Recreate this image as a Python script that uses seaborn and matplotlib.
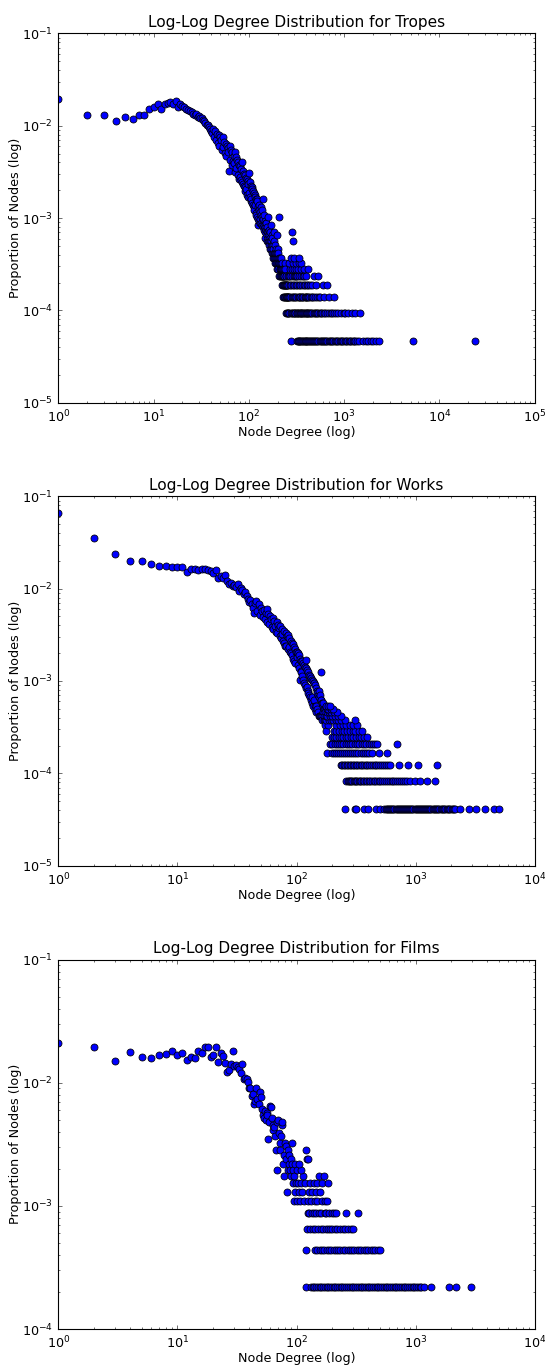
import numpy as np
import pandas as pd
import matplotlib
matplotlib.use("Agg")
import matplotlib.pyplot as plt
import seaborn as sns

# ---- Tropes: node counts per degree (degree 1..260), proportion = count / N ----
TROPES_N = 21400
tropes_head_counts = [
    415, 278, 282, 240, 268, 253, 278, 282, 321, 342,
    366, 321, 366, 381, 385, 368, 398, 338, 364, 353,
    338, 321, 317, 310, 300, 287, 278, 285, 268, 272,
    261, 257, 246, 238, 227, 216, 220, 205, 197, 188,
    178, 195, 160, 188, 150, 176, 140, 170, 128, 162,
    150, 118, 160, 125, 142, 108, 136, 100, 130, 122,
    112, 70, 128, 92, 118, 80, 110, 88, 100, 84,
    111, 68, 98, 75, 92, 62, 86, 56, 80, 60,
    78, 55, 72, 52, 86, 50, 70, 48, 64, 46,
    62, 42, 58, 44, 56, 38, 54, 36, 50, 40,
    66, 36, 52, 33, 48, 34, 46, 31, 44, 30,
    42, 28, 40, 26, 38, 30, 36, 24, 34, 23,
    34, 22, 33, 21, 18, 28, 30, 20, 26, 19,
    25, 21, 28, 19, 23, 26, 18, 22, 20, 17,
    21, 34, 16, 23, 18, 15, 20, 17, 13, 19,
    16, 19, 12, 17, 15, 14, 22, 12, 15, 13,
    14, 12, 16, 11, 13, 15, 10, 12, 18, 11,
    12, 10, 14, 9, 11, 13, 8, 11, 10, 9,
    10, 12, 8, 9, 15, 7, 9, 8, 11, 9,
    8, 10, 7, 9, 8, 6, 9, 7, 14, 10,
    7, 8, 6, 9, 7, 22, 8, 5, 7, 6,
    7, 6, 8, 5, 6, 7, 5, 6, 8, 5,
    6, 5, 7, 4, 6, 5, 4, 6, 5, 3,
    5, 4, 6, 3, 5, 4, 7, 3, 4, 6,
    4, 3, 5, 4, 3, 4, 2, 5, 3, 4,
    3, 4, 2, 3, 5, 2, 4, 3, 2, 3,
]
# tail: degrees observed with a given (small) node count
tropes_c1 = [277, 318, 325, 332, 339, 346, 353, 360, 368, 376, 384, 393, 402, 411,
             420, 430, 440, 451, 462, 473, 485, 497, 510, 523, 537, 551, 566, 581,
             597, 613, 630, 648, 666, 685, 705, 726, 748, 770, 793, 817, 842, 868,
             895, 923, 952, 982, 1013, 1045, 1080, 1115, 1152, 1190, 1230, 1270,
             1315, 1360, 1420, 1570, 1700, 1800, 1900, 2000, 2180, 2330, 5300, 23600]
tropes_c2 = [266, 278, 283, 290, 295, 302, 308, 316, 321, 328, 336, 343, 349, 356,
             364, 371, 377, 386, 394, 403, 411, 421, 432, 441, 452, 465, 478, 490,
             505, 520, 535, 552, 570, 590, 612, 635, 660, 690, 720, 752, 790, 830,
             872, 920, 990, 1030, 1100, 1200, 1300, 1450]
tropes_c3 = [264, 272, 281, 292, 299, 306, 315, 326, 333, 340, 347, 358, 365, 372,
             385, 393, 400, 412, 421, 430, 447, 458, 468, 490, 515, 540, 560, 620,
             700, 780]
tropes_c4 = [268, 276, 288, 298, 312, 323, 334, 347, 361, 375, 389, 404, 420, 437,
             455, 510, 600, 660]
tropes_c5 = [262, 273, 284, 294, 305, 314, 322, 336, 350, 366, 381, 398, 485, 525]
tropes_c6 = [270, 280, 296, 312, 330, 352, 375, 418]
tropes_c7 = [265, 287, 310, 335, 355]
tropes_c8 = [275, 300, 338]
tropes_c12 = [290]
tropes_c15 = [281]

# ---- Works ----
WORKS_N = 24100
works_head_counts = [
    1576, 844, 578, 477, 482, 451, 427, 427, 410, 410,
    415, 369, 390, 390, 388, 393, 393, 386, 378, 354,
    386, 318, 328, 313, 342, 292, 270, 280, 260, 265,
    251, 268, 229, 243, 234, 212, 222, 200, 188, 174,
    181, 164, 150, 130, 170, 178, 137, 163, 126, 150,
    138, 118, 140, 112, 130, 145, 104, 128, 100, 122,
    113, 92, 116, 88, 108, 96, 82, 104, 80, 98,
    91, 74, 96, 70, 88, 78, 66, 84, 62, 58,
    80, 58, 74, 54, 76, 56, 70, 50, 66, 48,
    62, 46, 60, 42, 56, 40, 54, 38, 50, 44,
    50, 36, 48, 33, 46, 25, 42, 31, 40, 30,
    40, 27, 38, 25, 36, 23, 34, 22, 33, 20,
    41, 21, 32, 19, 30, 18, 28, 17, 26, 16,
    27, 15, 26, 14, 25, 16, 24, 13, 23, 15,
    23, 13, 22, 12, 13, 20, 11, 19, 12, 18,
    17, 11, 19, 10, 16, 10, 17, 10, 30, 15,
    15, 10, 10, 14, 9, 13, 11, 14, 9, 12,
    10, 12, 9, 11, 8,
]
works_c1 = [257, 307, 318, 369, 395, 462, 500, 539, 560, 575, 590, 600, 612, 625,
            638, 650, 665, 680, 695, 710, 725, 740, 755, 770, 785, 800, 818, 835,
            852, 870, 888, 905, 922, 940, 960, 980, 1000, 1020, 1040, 1060, 1080,
            1100, 1125, 1150, 1175, 1200, 1225, 1250, 1275, 1300, 1330, 1360, 1390,
            1420, 1450, 1480, 1515, 1550, 1585, 1620, 1660, 1700, 1740, 1780, 1825,
            1870, 1915, 1960, 2005, 2050, 2100, 2150, 2370, 2790, 3210, 3850, 4520,
            4980]
works_c2 = [260, 268, 275, 281, 288, 295, 302, 309, 317, 325, 333, 341, 350, 360,
            370, 381, 392, 404, 416, 430, 444, 458, 474, 490, 507, 525, 544, 563,
            584, 606, 628, 652, 676, 702, 730, 760, 790, 820, 845, 900, 993, 1090,
            1245, 1460]
works_c3 = [236, 243, 250, 257, 265, 272, 280, 288, 296, 305, 314, 324, 334, 345,
            356, 368, 380, 393, 407, 421, 436, 452, 468, 485, 503, 525, 545, 565,
            590, 610, 720, 870, 1050, 1500]
works_c4 = [180, 197, 205, 213, 222, 231, 240, 250, 260, 271, 282, 294, 306, 318,
            331, 345, 360, 375, 392, 410, 430, 490, 575]
works_c5 = [190, 200, 210, 219, 228, 238, 248, 259, 270, 282, 295, 308, 322, 337,
            352, 368, 385, 403, 420, 440, 458, 475, 700]
works_c6 = [197, 208, 216, 226, 237, 248, 260, 273, 287, 300, 316, 333, 350, 370, 390]
works_c7 = [176, 205, 215, 228, 240, 252, 265, 280, 296, 312, 337, 353]
works_c8 = [183, 215, 230, 245, 262, 280, 300, 320]
works_c9 = [178, 186, 195, 204, 214, 225, 238, 255, 308]
works_c10 = [177, 182, 190, 199, 210, 222, 236]
works_c11 = [180, 188, 196, 207, 220]
works_c12 = [179, 185, 193, 202]
works_c13 = [176, 184, 191]

# ---- Films ----
FILMS_N = 4600
films_head_counts = [
    97, 89, 69, 82, 75, 73, 77, 79, 83, 78,
    81, 71, 75, 73, 84, 80, 89, 89, 74, 77,
    89, 68, 80, 76, 66, 56, 58, 65, 83, 63,
    64, 62, 60, 55, 65, 49, 50, 49, 47, 42,
    42, 36, 37, 31, 33, 42, 34, 31, 39, 35,
    28, 25, 24, 27, 23, 26, 25, 16, 22, 30,
    29, 24, 21, 19, 20, 17, 13, 9, 22, 23,
    18, 15, 13, 17, 21, 22, 10, 8, 12, 15,
    11, 14, 6, 9, 13, 12, 10, 9, 11, 8,
    10, 15, 9, 7, 5, 8, 10, 6, 7, 9,
]
films_c1 = [120, 133, 137, 141, 146, 151, 156, 161, 167, 173, 179, 185, 191, 198,
            205, 212, 219, 227, 235, 243, 252, 261, 270, 280, 290, 300, 311, 322,
            333, 345, 357, 370, 383, 396, 410, 425, 440, 455, 471, 488, 505, 523,
            541, 560, 580, 600, 621, 643, 666, 690, 714, 739, 765, 792, 820, 849,
            879, 910, 942, 975, 1010, 1045, 1082, 1120, 1180, 1350, 1890, 2200, 2920]
films_c2 = [121, 143, 150, 157, 164, 171, 179, 188, 196, 205, 214, 224, 234, 245,
            256, 268, 280, 293, 306, 320, 335, 350, 366, 383, 400, 420, 440, 460,
            482, 505]
films_c3 = [122, 129, 138, 144, 152, 160, 168, 176, 184, 192, 200, 210, 220, 232,
            244, 256, 270, 285, 300]
films_c4 = [124, 127, 134, 141, 147, 155, 162, 172, 178, 188, 198, 206, 215, 260, 330]
films_c5 = [101, 106, 116, 125, 132, 142, 150, 165, 175, 182]
films_c6 = [105, 112, 128, 136, 145, 158]
films_c7 = [102, 110, 118, 130, 140, 148, 163, 185]
films_c8 = [114, 153, 170]
films_c9 = [108]
films_c10 = [104]
films_c11 = [123, 126]
films_c13 = [119]


def build_frame(head_counts, tail_levels, total):
    degree = list(np.arange(1, len(head_counts) + 1))
    count = list(head_counts)
    for c, degs in tail_levels:
        degree += degs
        count += [c] * len(degs)
    df = pd.DataFrame({"degree": degree, "count": count})
    df["proportion"] = df["count"] / total
    return df


tropes = build_frame(tropes_head_counts,
                     [(1, tropes_c1), (2, tropes_c2), (3, tropes_c3), (4, tropes_c4),
                      (5, tropes_c5), (6, tropes_c6), (7, tropes_c7), (8, tropes_c8),
                      (12, tropes_c12), (15, tropes_c15)], TROPES_N)
works = build_frame(works_head_counts,
                    [(1, works_c1), (2, works_c2), (3, works_c3), (4, works_c4),
                     (5, works_c5), (6, works_c6), (7, works_c7), (8, works_c8),
                     (9, works_c9), (10, works_c10), (11, works_c11), (12, works_c12),
                     (13, works_c13)], WORKS_N)
films = build_frame(films_head_counts,
                    [(1, films_c1), (2, films_c2), (3, films_c3), (4, films_c4),
                     (5, films_c5), (6, films_c6), (7, films_c7), (8, films_c8),
                     (9, films_c9), (10, films_c10), (11, films_c11), (13, films_c13)],
                    FILMS_N)

sns.set_style("white")
plt.rcParams.update({
    "font.family": ["DejaVu Sans"],
    "font.size": 11.5,
    "axes.titlesize": 13.8,
    "axes.labelsize": 11.5,
    "xtick.labelsize": 11.5,
    "ytick.labelsize": 11.5,
    "axes.edgecolor": "black",
    "axes.linewidth": 1.0,
    "text.color": "black",
    "axes.labelcolor": "black",
    "xtick.color": "black",
    "ytick.color": "black",
})

DPI = 80
fig = plt.figure(figsize=(545 / DPI, 1368 / DPI), dpi=DPI)

panels = [
    (tropes, "Tropes", (1, 1e5), (1e-5, 1e-1), 0.7056),
    (works, "Works", (1, 1e4), (1e-5, 1e-1), 0.3672),
    (films, "Films", (1, 1e4), (1e-4, 1e-1), 0.0285),
]

for df, name, xlim, ylim, bottom in panels:
    ax = fig.add_axes([0.1072, bottom, 0.8738, 0.27])
    ax.set_xscale("log")
    ax.set_yscale("log")
    sns.scatterplot(data=df, x="degree", y="proportion", ax=ax,
                    color="blue", edgecolor="black", linewidth=0.7, s=40,
                    legend=False)
    ax.set_xlim(xlim)
    ax.set_ylim(ylim)
    ax.set_title(f"Log-Log Degree Distribution for {name}", color="black")
    ax.set_xlabel("Node Degree (log)", labelpad=1)
    ax.set_ylabel("Proportion of Nodes (log)", labelpad=0)
    ax.tick_params(which="both", direction="in", top=True, right=True,
                   bottom=True, left=True, width=0.5, colors="black")
    ax.tick_params(which="major", length=4, pad=5)
    ax.tick_params(which="minor", length=2)

fig.savefig("out.png", dpi=DPI)
